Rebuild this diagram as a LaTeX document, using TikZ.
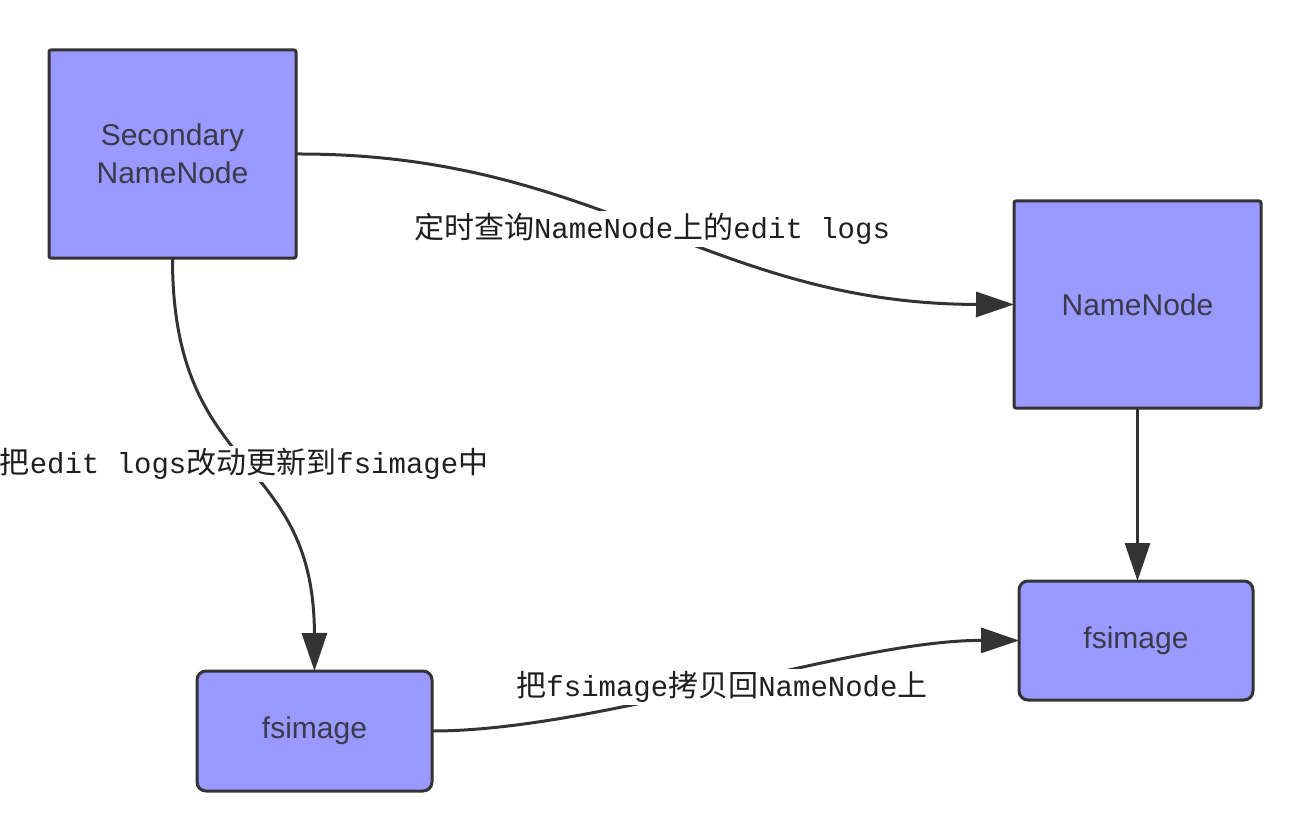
\documentclass[tikz,border=0pt]{standalone}
\usepackage{fontspec}
\setmainfont{Liberation Sans}
\newfontfamily\cjkfam{Noto Sans CJK SC}
\newfontfamily\monofam{Liberation Mono}
\usetikzlibrary{arrows.meta}
\definecolor{boxfill}{HTML}{9999FF}
\definecolor{edgecol}{HTML}{333333}
\definecolor{boxtext}{HTML}{3A3A4A}
\newcommand\zhtxt[1]{{\cjkfam\fontsize{30}{30}\selectfont #1}}
\newcommand\entxt[1]{{\monofam\fontsize{29}{30}\selectfont #1}}
\begin{document}
\begin{tikzpicture}[x=1pt,y=-1pt,
  box/.style={draw=edgecol, fill=boxfill, line width=3pt, inner sep=0pt, outer sep=0pt,
    font=\fontsize{30}{38}\selectfont, text=boxtext, align=center},
  sqbox/.style={box, rounded corners=2pt},
  rdbox/.style={box, rounded corners=9pt},
  conn/.style={draw=edgecol, line width=3pt, -{Triangle[length=38pt,width=25pt]}},
  lbl/.style={fill=white, inner sep=2pt, text=black!88}
]
\useasboundingbox (0,0) rectangle (1306,837);

\node[sqbox, minimum width=247, minimum height=208] (snn) at (172.5,154) {Secondary\\NameNode};
\node[sqbox, minimum width=247, minimum height=207] (nn) at (1137.5,304.5) {NameNode};
\node[rdbox, minimum width=234, minimum height=119] (fsr) at (1136,640.5) {fsimage};
\node[rdbox, minimum width=235, minimum height=120] (fsl) at (314.5,731) {fsimage};

\draw[conn] (snn.east) .. controls (600,153) and (710,304) .. (nn.west);
\draw[conn] (snn.south) .. controls (172,480) and (314,450) .. (fsl.north);
\draw[conn] (nn.south) -- (nn.south |- fsr.north);
\draw[conn] (fsl.east) .. controls (600,731) and (850,640) .. (fsr.west);

\node[lbl] (l1) at (652,229) {\zhtxt{定时查询}\entxt{NameNode}\zhtxt{上的}\entxt{edit logs}};
\node[lbl] (l2) at (244,464) {\zhtxt{把}\entxt{edit logs}\zhtxt{改动更新到}\entxt{fsimage}\zhtxt{中}};
\node[lbl] (l3) at (722,687) {\zhtxt{把}\entxt{fsimage}\zhtxt{拷贝回}\entxt{NameNode}\zhtxt{上}};
\end{tikzpicture}
\end{document}
